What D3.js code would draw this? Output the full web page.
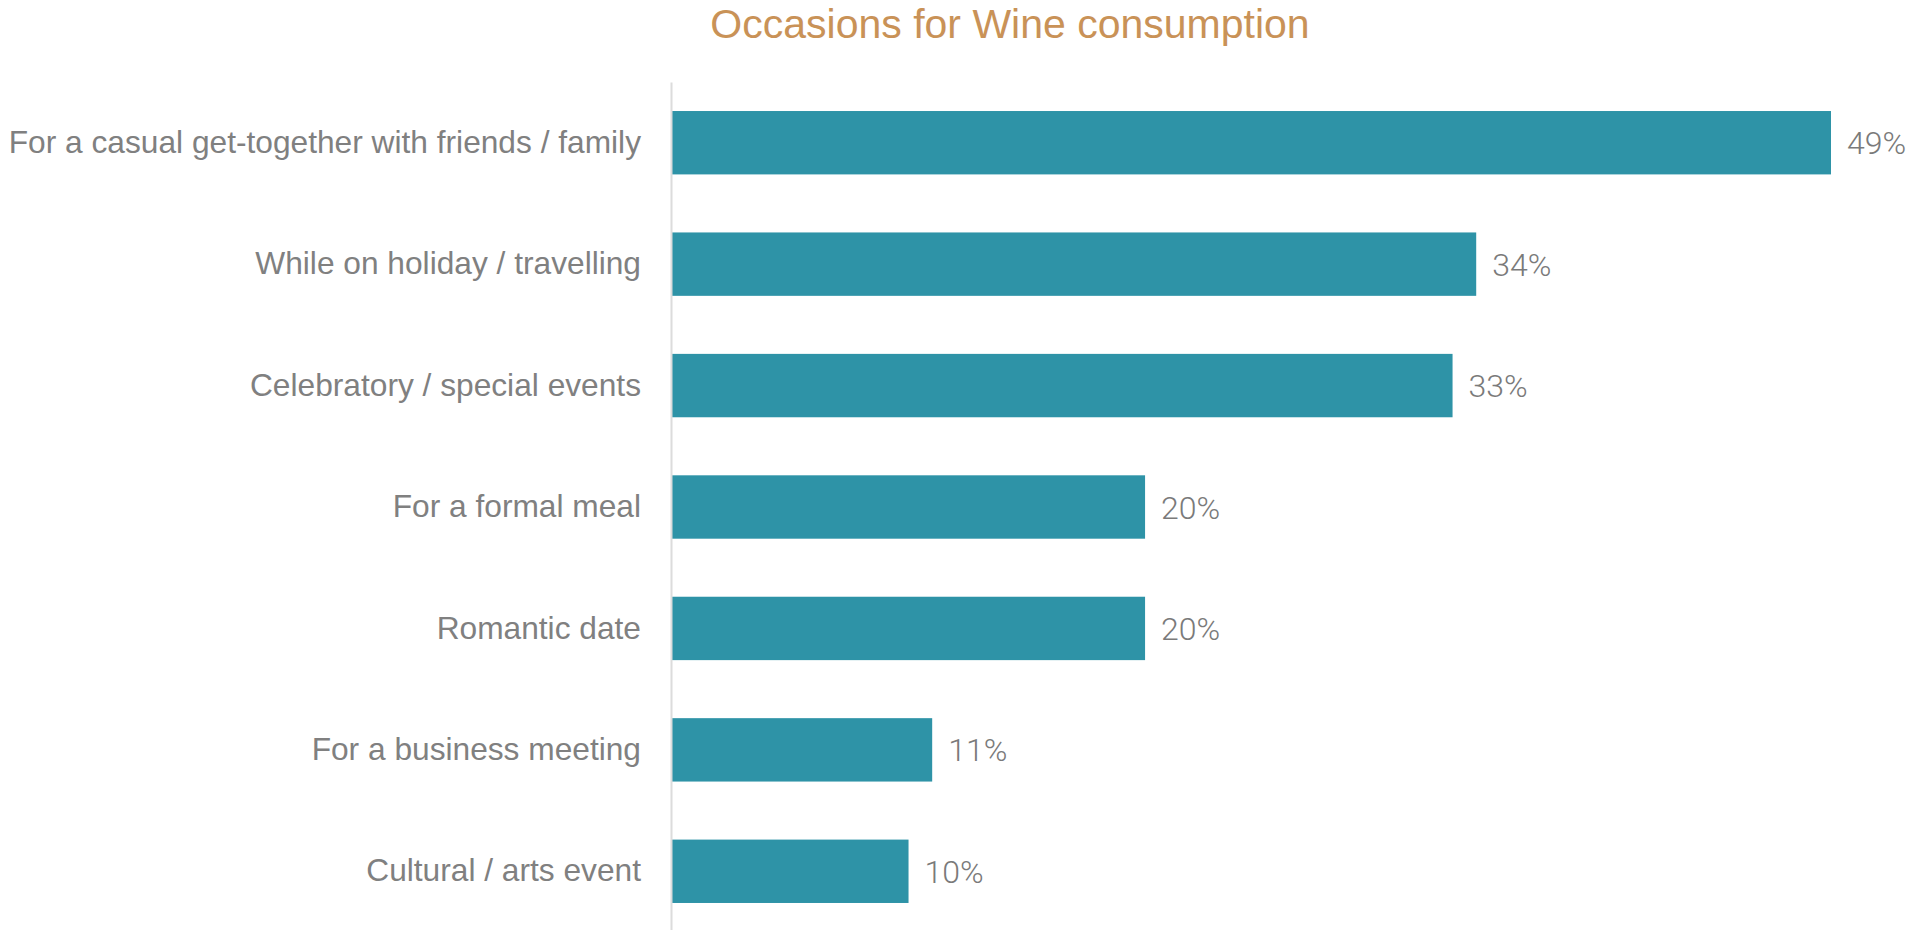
<!DOCTYPE html>
<html>
<head>
<meta charset="utf-8">
<title>Occasions for Wine consumption</title>
<script src="https://cdn.jsdelivr.net/npm/d3@7"></script>
<style>
  html, body { margin: 0; padding: 0; background: #ffffff; }
  svg { display: block; }
</style>
</head>
<body>
<svg id="chart" width="1921" height="930"></svg>
<script>
// Survey: occasions for wine consumption (% of respondents)
const categories = [
  "For a casual get-together with friends / family",
  "While on holiday / travelling",
  "Celebratory / special events",
  "For a formal meal",
  "Romantic date",
  "For a business meeting",
  "Cultural / arts event"
];
const values = [49, 34, 33, 20, 20, 11, 10];
const chartTitle = "Occasions for Wine consumption";

const svg = d3.select("#chart");
const plot = { left: 672, right: 1831, top: 82, bottom: 932 };

const data = categories.map((c, i) => ({ category: c, value: values[i] }));

const x = d3.scaleLinear()
  .domain([0, d3.max(values)])
  .range([plot.left, plot.right]);

const y = d3.scaleBand()
  .domain(categories)
  .range([plot.top, plot.bottom])
  .paddingInner(0.478)
  .paddingOuter(0.239);

// Title
svg.append("text")
  .attr("x", 1010)
  .attr("y", 38)
  .attr("text-anchor", "middle")
  .attr("font-family", "'Liberation Sans', Arial, Helvetica, sans-serif")
  .attr("font-size", 41)
  .attr("fill", "#C99257")
  .text(chartTitle);

// Bars
svg.append("g")
  .selectAll("rect")
  .data(data)
  .join("rect")
  .attr("x", x(0))
  .attr("y", d => y(d.category))
  .attr("width", d => x(d.value) - x(0))
  .attr("height", y.bandwidth())
  .attr("fill", "#2E93A7");

// Category axis (left)
const yAxis = d3.axisLeft(y).tickSize(0).tickPadding(30);
const gy = svg.append("g")
  .attr("transform", `translate(${plot.left - 1},0)`)
  .call(yAxis);
gy.select(".domain")
  .attr("stroke", "#dcdcdc")
  .attr("stroke-width", 2);
gy.selectAll(".tick text")
  .attr("font-family", "'Liberation Sans', Arial, Helvetica, sans-serif")
  .attr("font-size", 31.7)
  .attr("fill", "#808080");

// Value labels
svg.append("g")
  .selectAll("text")
  .data(data)
  .join("text")
  .attr("x", d => x(d.value) + 16)
  .attr("y", d => y(d.category) + y.bandwidth() / 2)
  .attr("dy", "0.36em")
  .attr("font-family", "Roboto, 'Open Sans', sans-serif")
  .attr("font-weight", 300)
  .attr("font-size", 32)
  .attr("fill", "#7a7a7a")
  .text(d => d.value + "%");
</script>
</body>
</html>
